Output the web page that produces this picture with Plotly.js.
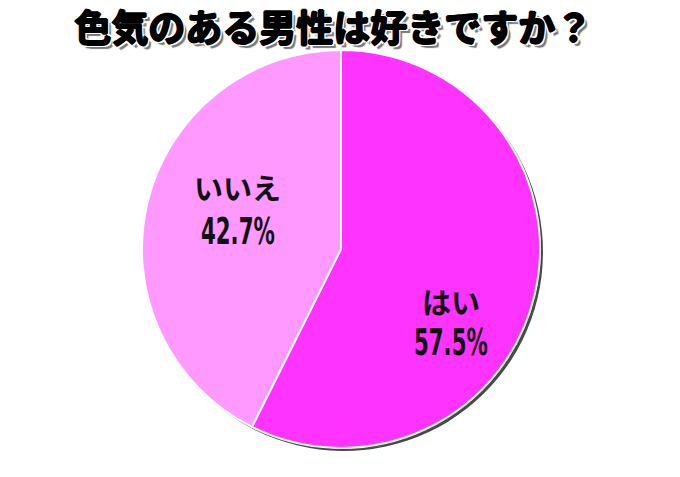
<!DOCTYPE html>
<html>
<head>
<meta charset="utf-8">
<script src="https://cdn.plot.ly/plotly-3.0.1.min.js"></script>
<style>html,body{margin:0;padding:0;background:#fff;}#chart{width:680px;height:477px;}</style>
</head>
<body>
<div id="chart"></div>
<script>
const titleText = "色気のある男性は好きですか？";
const labels = ["はい", "いいえ"];
const values = [57.5, 42.7];
const pctText = ["57.5%", "42.7%"];
const colors = ["#FF33FF", "#FF99FF"];

// layout (pixel) positions of the slice label lines
const labelPos = [[451, 301], [237, 187]];
const pctPos = [[451, 342], [238, 231]];

const W = 680, H = 477;
const cx = 341, cy = 249, r = 199, sh = 3;
function dom(x0, y0) {
  return {
    x: [(x0 - r) / W, (x0 + r) / W],
    y: [(H - (y0 + r)) / H, (H - (y0 - r)) / H]
  };
}

const shadow = {
  type: "pie",
  values: values,
  labels: labels,
  sort: false,
  direction: "clockwise",
  rotation: 0,
  textinfo: "none",
  hoverinfo: "skip",
  marker: { colors: ["#405040", "#405040"], line: { width: 0 } },
  domain: dom(cx + sh, cy + sh),
  showlegend: false
};

const pie = {
  type: "pie",
  values: values,
  labels: labels,
  text: pctText,
  sort: false,
  direction: "clockwise",
  rotation: 0,
  textinfo: "none",
  marker: { colors: colors, line: { color: "#ffffff", width: 2 } },
  domain: dom(cx, cy),
  showlegend: false,
  hoverinfo: "label+text"
};

const annotations = [];
labels.forEach((lab, i) => {
  annotations.push({
    xref: "paper", yref: "paper",
    x: labelPos[i][0] / W, y: 1 - labelPos[i][1] / H,
    xanchor: "center", yanchor: "middle",
    text: "<b>" + lab + "</b>", showarrow: false,
    font: { family: "'Noto Sans CJK JP', sans-serif", size: 29, color: "#111" }
  });
  annotations.push({
    xref: "paper", yref: "paper",
    x: pctPos[i][0] / W, y: 1 - pctPos[i][1] / H,
    xanchor: "center", yanchor: "middle",
    text: "<b>" + pctText[i] + "</b>", showarrow: false,
    font: { family: "'DejaVu Sans', sans-serif", size: 38, color: "#111" }
  });
});

const layout = {
  width: W, height: H,
  margin: { l: 0, r: 0, t: 0, b: 0 },
  paper_bgcolor: "#ffffff",
  showlegend: false,
  annotations: annotations,
  title: {
    text: "<b>" + titleText + "</b>",
    x: 0.49, xanchor: "center",
    y: 0.94, yanchor: "middle",
    font: {
      family: "'Noto Sans CJK JP', sans-serif",
      size: 37, color: "#000",
      weight: 900,
      shadow: "1px 0 0 #000, -1px 0 0 #000, 0 1px 0 #000, 0 -1px 0 #000, 2px 2px 0 #fff, -2px -2px 0 #fff, 2px -2px 0 #fff, -2px 2px 0 #fff, 2px 0 0 #fff, -2px 0 0 #fff, 0 2px 0 #fff, 0 -2px 0 #fff, 4px 4px 1px #777"
    }
  }
};

Plotly.newPlot("chart", [shadow, pie], layout, { displayModeBar: false, staticPlot: true }).then(() => {
  // narrow the percentage labels (the reference uses a condensed face)
  const texts = document.querySelectorAll("#chart .annotation-text");
  texts.forEach(t => {
    if (t.textContent.indexOf("%") < 0) return;
    const bb = t.getBBox();
    const c = bb.x + bb.width / 2;
    const s = 0.56;
    const prev = t.getAttribute("transform") || "";
    t.setAttribute("transform", prev + " translate(" + (c * (1 - s)) + ",0) scale(" + s + ",1)");
  });
});
</script>
</body>
</html>
